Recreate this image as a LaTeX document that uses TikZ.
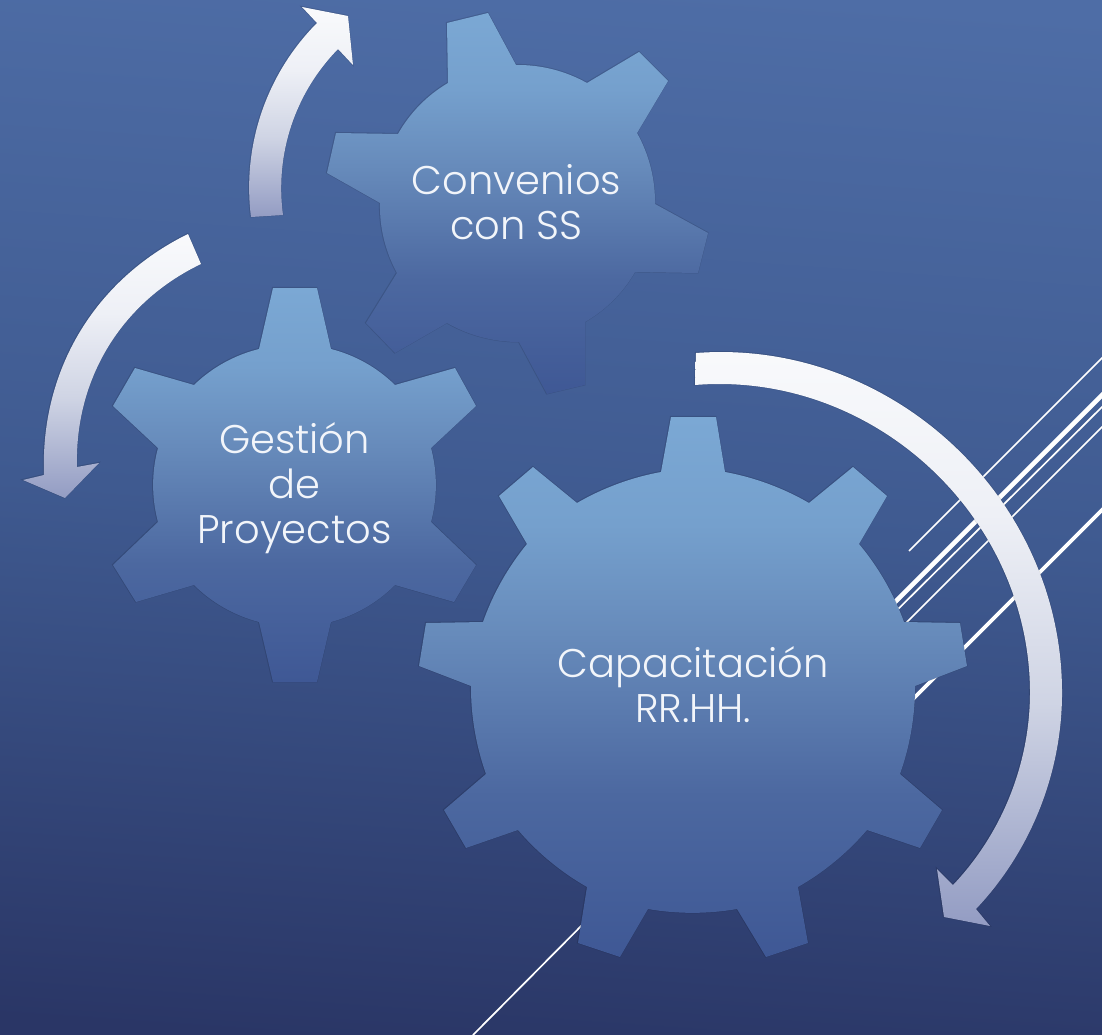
\documentclass[tikz,border=0pt]{standalone}
\usepackage{fontspec}
\setmainfont{Poppins}[UprightFont=* Light]
\definecolor{bgtop}{HTML}{4E6DA6}
\definecolor{bgmid}{HTML}{3F5A90}
\definecolor{bgbot}{HTML}{2A3666}
\definecolor{geartop}{HTML}{7BA8D4}
\definecolor{geara}{HTML}{75A0CD}
\definecolor{gearb}{HTML}{678BBB}
\definecolor{gearc}{HTML}{4C68A0}
\definecolor{gearbot}{HTML}{3F5895}
\definecolor{arrtop}{HTML}{F9FAFC}
\definecolor{arra}{HTML}{EEF0F6}
\definecolor{arrb}{HTML}{CFD4E4}
\definecolor{arrbot}{HTML}{939CC3}
\definecolor{txt}{HTML}{F2F5FA}
\pgfdeclareverticalshading{gearfade}{100bp}{color(0bp)=(gearbot); color(25bp)=(gearbot); color(40bp)=(gearc); color(55bp)=(gearb); color(65bp)=(geara); color(75bp)=(geartop); color(100bp)=(geartop)}
\pgfdeclareverticalshading{arrowfade}{100bp}{color(0bp)=(arrbot); color(25bp)=(arrbot); color(44bp)=(arrb); color(60bp)=(arra); color(75bp)=(arrtop); color(100bp)=(arrtop)}
\tikzset{
  gearshape/.style={shading=gearfade},
  arrowshape/.style={shading=arrowfade},
  halo/.style={draw=black,draw opacity=.12,line width=1.5pt,line join=miter,shift={(-.3,-.3)}},
  gap20/.style={bend left=10,looseness=.85},
  gap30/.style={bend left=15,looseness=.87},
  thickline/.style={white,line width=4.6pt},
  midline/.style={white,line width=3.8pt},
  thinline/.style={white,line width=1.7pt},
  gearlabel/.style={text=txt,font=\fontsize{40}{45}\selectfont,align=center,inner sep=0pt}
}
\def\gearConv{(447,23) -- (488,13) -- (516,65) to[gap30] (587,83) -- (639,52) -- (668,81) -- (637,133)
  to[gap30] (655,204) -- (708,233) -- (698,273) -- (635,272) to[gap30] (585,322) -- (585,385) -- (547,394) -- (519,342)
  to[gap30] (447,323) -- (395,353) -- (366,323) -- (397,273) to[gap30] (380,203) -- (327,173) -- (336,133) -- (398,134)
  to[gap30] (448,83) -- cycle}
\def\gearGest{(273,288) -- (317,288) -- (331,349) to[gap30] (395,385) -- (455,368) -- (476,406) -- (431,448)
  to[gap30] (431,522) -- (476,565) -- (454,602) -- (395,585) to[gap30] (331,622) -- (317,682) -- (273,682) -- (259,622)
  to[gap30] (194,585) -- (136,602) -- (113,565) -- (158,522) to[gap30] (158,448) -- (113,406) -- (135,368) -- (194,385)
  to[gap30] (259,349) -- cycle}
\def\gearCapa{(671,417) -- (716,417) -- (725,472) to[gap20] (809,503) -- (853,467) -- (887,496) -- (859,544)
  to[gap20] (904,622) -- (960,623) -- (967,666) -- (915,686) to[gap20] (900,774) -- (942,810) -- (920,848) -- (867,830)
  to[gap20] (798,887) -- (808,943) -- (766,957) -- (737,909) to[gap20] (648,909) -- (620,957) -- (578,943) -- (587,887)
  to[gap20] (518,830) -- (466,848) -- (444,810) -- (486,774) to[gap20] (471,686) -- (419,666) -- (426,623) -- (483,622)
  to[gap20] (527,544) -- (499,496) -- (533,467) -- (577,503) to[gap20] (661,472) -- cycle}
\def\arrowUp{(251,217) to[bend left=26,looseness=.9] (317,23) -- (302,7) -- (348,16) -- (353,65) -- (338,49) to[bend right=26,looseness=.9] (283,215) -- cycle}
\def\arrowLeft{(188,234) to[bend right=33,looseness=.95] (44,475) -- (23,480) -- (65,498) -- (99,463) -- (77,467) to[bend left=33,looseness=.95] (201,264) -- cycle}
\def\arrowBig{(696,353) to[bend left=47,looseness=1] (1062,690) to[bend left=22,looseness=.88] (976,909) -- (990,926) -- (944,917) -- (937,869) -- (953,885) to[bend right=22,looseness=.88] (1030,690) to[bend right=47,looseness=1] (695,385) -- cycle}
\begin{document}
\begin{tikzpicture}[x=1pt,y=-1pt]
\useasboundingbox (0,0) rectangle (1102,1034);
\shade[shading=axis,top color=bgtop,bottom color=bgbot,middle color=bgmid,shading angle=-4] (-20,-20) rectangle (1122,1054);
\begin{scope}
\clip (0,0) rectangle (1102,1034);
\coordinate (l1a) at (909,551); \coordinate (l1b) at (1104,356);
\coordinate (l2a) at (880,617); \coordinate (l2b) at (1104,393);
\coordinate (l3a) at (880,627); \coordinate (l3b) at (1104,405);
\coordinate (l4a) at (890,639); \coordinate (l4b) at (1104,425);
\coordinate (l5a) at (900,712); \coordinate (l5b) at (1104,508);
\coordinate (l6a) at (600,907); \coordinate (l6b) at (473,1035);
\draw[thinline] (l1a) -- (l1b);
\draw[thickline] (l2a) -- (l2b);
\draw[thinline] (l3a) -- (l3b);
\draw[thinline] (l4a) -- (l4b);
\draw[midline] (l5a) -- (l5b);
\draw[thinline] (l6a) -- (l6b);
\end{scope}
% gears
\path[halo] \gearConv;
\shade[gearshape] \gearConv;
\path[halo] \gearGest;
\shade[gearshape] \gearGest;
\path[halo] \gearCapa;
\shade[gearshape] \gearCapa;
% arrows
\path[halo] \arrowUp;
\shade[arrowshape] \arrowUp;
\path[halo] \arrowLeft;
\shade[arrowshape] \arrowLeft;
\path[halo] \arrowBig;
\shade[arrowshape] \arrowBig;
% labels
\node[gearlabel] (conv) at (516.5,202.5) {Convenios\\con SS};
\node[gearlabel] (gest) at (294.5,488) {Gestión\\de\\Proyectos};
\node[gearlabel] (capa) at (693,685) {Capacitación\\RR.HH.};
\end{tikzpicture}
\end{document}
